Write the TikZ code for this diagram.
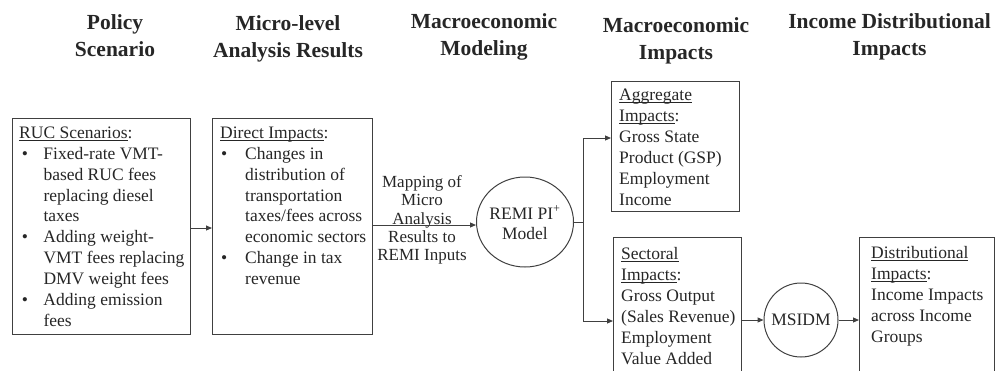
\documentclass[tikz,border=0pt]{standalone}
\usepackage{fontspec}
\setmainfont{Liberation Serif}
\usetikzlibrary{arrows.meta,shapes.geometric}
\definecolor{ln}{HTML}{404040}
\definecolor{tx}{HTML}{262626}
\newcommand{\ulc}[1]{\setbox0\hbox{#1}\rlap{\rule[-2.6pt]{\wd0}{0.8pt}}\box0}
\begin{document}
\begin{tikzpicture}[x=1pt,y=-1pt,
 box/.style={draw=ln, line width=1pt, inner sep=0pt, anchor=north west},
 txt/.style={text=tx, inner sep=0pt, anchor=base west, font=\fontsize{17.5}{20.9}\selectfont},
 ctxt/.style={text=tx, inner sep=0pt, anchor=base, font=\fontsize{17.5}{20}\selectfont},
 hdr/.style={text=tx, inner sep=0pt, anchor=base, font=\fontsize{21.5}{27}\selectfont\bfseries},
 arr/.style={draw=ln, line width=1pt, -{Triangle[length=6pt,width=5pt]}},
 conn/.style={draw=ln, line width=1pt}]
\path[use as bounding box, clip] (0,0) rectangle (995,370);

% headers
\node[hdr] (h1) at (115,29.3) {\begin{tabular}[t]{@{}c@{}}Policy\\Scenario\end{tabular}};
\node[hdr] (h2) at (288,30) {\begin{tabular}[t]{@{}c@{}}Micro-level\\Analysis Results\end{tabular}};
\node[hdr] (h3) at (484,28.3) {\begin{tabular}[t]{@{}c@{}}Macroeconomic\\Modeling\end{tabular}};
\node[hdr] (h4) at (676,32) {\begin{tabular}[t]{@{}c@{}}Macroeconomic\\Impacts\end{tabular}};
\node[hdr] (h5) at (889.5,28.3) {\begin{tabular}[t]{@{}c@{}}Income Distributional\\Impacts\end{tabular}};

% box 1
\node[box, minimum width=178pt, minimum height=216pt] (b1) at (12,118) {};
\node[txt] (t1) at (19,138.3) {\begin{tabular}[t]{@{}p{24.3pt}@{}l@{}}
\multicolumn{2}{@{}l@{}}{\ulc{RUC Scenarios}:}\\
\hspace*{2.7pt}\textbullet & Fixed-rate VMT-\\
 & based RUC fees\\
 & replacing diesel\\
 & taxes\\
\hspace*{2.7pt}\textbullet & Adding weight-\\
 & VMT fees replacing\\
 & DMV weight fees\\
\hspace*{2.7pt}\textbullet & Adding emission\\
 & fees
\end{tabular}};

% box 2
\node[box, minimum width=160pt, minimum height=216pt] (b2) at (212,118) {};
\node[txt] (t2) at (220,138.3) {\begin{tabular}[t]{@{}p{25pt}@{}l@{}}
\multicolumn{2}{@{}l@{}}{\ulc{Direct Impacts}:}\\
\hspace*{1pt}\textbullet & Changes in\\
 & distribution of\\
 & transportation\\
 & taxes/fees across\\
 & economic sectors\\
\hspace*{1pt}\textbullet & Change in tax\\
 & revenue
\end{tabular}};

% mapping label
\node[ctxt, font=\fontsize{17}{18.4}\selectfont] (map) at (422,187.3) {\begin{tabular}[t]{@{}c@{}}Mapping of\\Micro\\Analysis\\Results to\\REMI Inputs\end{tabular}};

% REMI ellipse
\node[draw=ln, line width=1pt, ellipse, minimum width=97pt, minimum height=90pt, inner sep=0pt] (remi) at (525,222) {};
\node[ctxt] (remit) at (525,219) {\begin{tabular}[t]{@{}c@{}}REMI PI\textsuperscript{+}\\Model\end{tabular}};

% aggregate
\node[box, minimum width=128pt, minimum height=130pt] (agg) at (611,81) {};
\node[txt, font=\fontsize{17.5}{21}\selectfont] (tagg) at (619,100) {\begin{tabular}[t]{@{}l@{}}
\ulc{Aggregate}\\ \ulc{Impacts}:\\ Gross State\\ Product (GSP)\\ Employment\\ Income
\end{tabular}};

% sectoral
\node[box, minimum width=128pt, minimum height=150pt] (sec) at (613,237) {};
\node[txt, font=\fontsize{17.5}{21}\selectfont] (tsec) at (621,259) {\begin{tabular}[t]{@{}l@{}}
\ulc{Sectoral}\\ \ulc{Impacts}:\\ Gross Output\\ (Sales Revenue)\\ Employment\\ Value Added
\end{tabular}};

% MSIDM
\node[draw=ln, line width=1pt, circle, minimum size=74pt, inner sep=0pt] (ms) at (801,320) {};
\node[ctxt] (mst) at (801,325) {MSIDM};

% distributional
\node[box, minimum width=135pt, minimum height=150pt] (dist) at (859,237) {};
\node[txt, font=\fontsize{17.5}{21}\selectfont] (tdist) at (871,258) {\begin{tabular}[t]{@{}l@{}}
\ulc{Distributional}\\ \ulc{Impacts}:\\ Income Impacts\\ across Income\\ Groups
\end{tabular}};

% connectors
\coordinate (y1) at (0,228);
\coordinate (y2) at (0,225);
\coordinate (sp) at (583,222);
\coordinate (ya) at (0,138);
\coordinate (ys) at (0,321);
\draw[arr] (b1.east |- y1) -- (b2.west |- y1);
\draw[arr] (b2.east |- y2) -- (remi.west |- y2);
\draw[conn] (remi.east) -- (sp);
\draw[arr] (sp) |- (agg.west |- ya);
\draw[arr] (sp) |- (sec.west |- ys);
\draw[arr] (sec.east |- ms) -- (ms.west);
\draw[arr] (ms.east) -- (dist.west |- ms);
\end{tikzpicture}
\end{document}
